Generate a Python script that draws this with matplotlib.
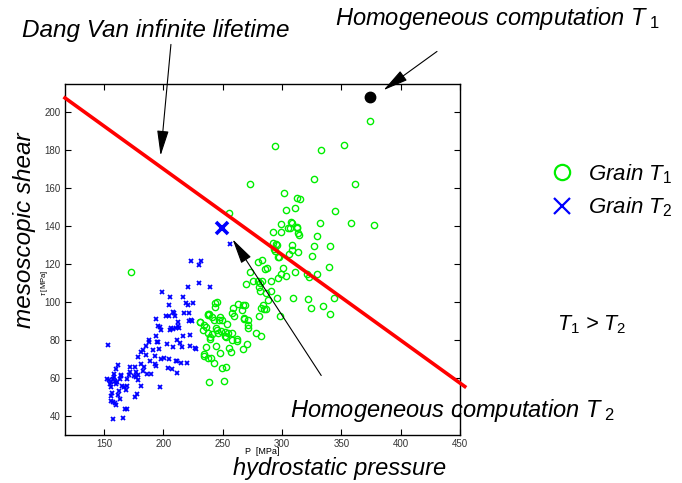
import matplotlib
matplotlib.use("Agg")
import matplotlib.pyplot as plt
from matplotlib.lines import Line2D

plt.rcParams["font.family"] = ["Liberation Sans", "DejaVu Sans"]
plt.rcParams["mathtext.fontset"] = "custom"
plt.rcParams["mathtext.it"] = "Liberation Sans:italic"
plt.rcParams["mathtext.rm"] = "Liberation Sans"

# -------------------------------------------------
# Data
# -------------------------------------------------
# Grain T2 (blue crosses)
p_t2 = [153.4, 157.8, 166.2, 167.6, 169.3, 152.8, 154.2, 155.6, 154.8, 156.2,
        157.6, 158.1, 159.0, 160.4, 156.2, 155.6, 157.6, 159.0, 160.4, 161.8,
        163.4, 164.6, 164.0, 160.4, 161.8, 165.4, 166.5, 168.2, 169.3, 169.3,
        171.0, 171.6, 172.1, 176.0, 176.6, 175.2, 177.2, 178.9, 181.4, 177.8,
        175.8, 178.9, 182.8, 183.9, 180.8, 178.9, 181.4, 182.8, 185.0, 187.5,
        187.8, 185.6, 188.4, 189.2, 186.1, 191.2, 192.6, 193.1, 193.7, 194.5,
        194.0, 193.4, 195.7, 196.8, 197.6, 195.4, 196.2, 197.6, 197.4, 199.0,
        200.1, 203.8, 204.6, 206.9, 208.0, 203.2, 204.6, 205.2, 204.6, 202.5,
        205.7, 206.6, 208.0, 208.0, 209.1, 209.6, 212.4, 212.2, 210.8, 213.0,
        211.3, 210.2, 211.8, 214.7, 219.7, 211.8, 213.6, 215.3, 216.4, 217.0,
        218.7, 220.4, 221.4, 221.4, 220.8, 222.5, 223.4, 229.8, 231.8, 230.3,
        224.7, 224.2, 222.0, 226.5, 239.4, 223.4, 227.6, 216.7, 256.3, 158.5,
        161.0, 163.0, 157.0, 162.5]
tau_t2 = [77.4, 38.2, 38.8, 43.5, 43.5, 59.3, 58.5, 57.6, 56.7, 54.9,
          59.3, 62.0, 58.0, 56.7, 50.5, 47.6, 47.0, 46.5, 45.6, 51.0,
          48.8, 61.0, 61.6, 64.6, 66.4, 55.5, 55.0, 53.5, 55.5, 59.3,
          61.6, 63.2, 65.8, 65.8, 63.2, 60.6, 60.2, 58.5, 55.8, 51.4,
          49.7, 61.4, 63.7, 65.5, 67.2, 70.8, 73.4, 74.3, 71.8, 78.7,
          80.0, 76.9, 69.0, 62.0, 62.0, 74.3, 71.6, 67.2, 66.0, 79.0,
          81.8, 91.0, 87.0, 86.6, 85.2, 78.7, 75.1, 69.9, 54.8, 105.0,
          70.4, 65.1, 69.9, 64.6, 76.0, 77.8, 98.0, 102.7, 92.2, 92.7,
          85.2, 86.2, 85.7, 94.5, 94.0, 92.2, 89.2, 87.0, 86.2, 86.2,
          80.0, 68.6, 68.6, 67.6, 67.8, 62.3, 78.1, 76.0, 102.7, 94.0,
          99.4, 98.5, 94.0, 89.6, 107.5, 82.7, 121.2, 119.4, 121.2, 109.8,
          99.2, 90.0, 76.4, 75.7, 107.7, 90.4, 75.1, 81.8, 130.2, 60.5,
          57.5, 59.0, 52.0, 53.0]

# Grain T1 (green circles)
p_t1 = [238.8, 251.4, 249.7, 253.1, 243.0, 240.2, 237.6, 234.5, 234.5, 235.7,
        244.1, 247.8, 255.3, 257.0, 267.2, 270.5, 282.3, 277.6, 271.6, 271.6,
        271.1, 267.7, 267.7, 262.1, 262.4, 257.6, 257.9, 254.0, 251.7, 252.6,
        239.6, 239.3, 237.3, 241.2, 233.7, 230.9, 234.3, 236.0, 237.9, 238.8,
        240.7, 243.0, 244.4, 245.0, 243.2, 244.9, 246.9, 247.8, 249.2, 248.6,
        245.8, 252.0, 257.9, 262.9, 266.9, 269.1, 266.3, 258.4, 259.6, 253.6,
        269.4, 273.1, 275.9, 280.1, 282.9, 280.4, 281.0, 282.7, 281.0, 279.3,
        284.3, 284.6, 282.3, 280.4, 286.6, 287.9, 285.7, 287.7, 290.5, 286.2,
        290.8, 295.6, 298.4, 296.4, 300.4, 299.0, 303.4, 296.7, 293.9, 295.0,
        292.7, 292.2, 293.6, 299.0, 299.0, 296.1, 297.2, 305.7, 306.8, 308.5,
        308.2, 308.5, 313.8, 314.4, 313.0, 313.8, 311.0, 309.0, 321.7, 324.3,
        320.9, 322.6, 325.4, 326.6, 329.1, 329.3, 331.6, 334.6, 339.4, 340.0,
        340.8, 343.4, 358.0, 377.1, 374.4, 293.8, 332.8, 351.9, 273.2, 326.9,
        361.7, 301.6, 312.8, 315.3, 303.5, 310.9, 344.9, 255.0, 307.5, 305.2,
        312.8, 172.7, 230.4, 237.4, 243.6]
tau_t1 = [57.6, 58.1, 65.0, 65.5, 67.8, 70.5, 70.1, 71.2, 72.6, 75.9,
          76.5, 73.1, 75.8, 73.5, 74.9, 77.9, 81.9, 83.5, 86.3, 87.9,
          90.2, 90.9, 91.4, 80.5, 79.3, 83.7, 79.6, 83.5, 82.1, 81.4,
          81.4, 80.2, 83.5, 83.2, 85.3, 89.3, 87.9, 86.7, 92.9, 93.4,
          92.0, 90.2, 86.2, 84.9, 97.3, 99.7, 90.6, 92.0, 90.6, 84.4,
          83.7, 83.9, 94.0, 99.0, 98.5, 98.5, 95.5, 96.6, 92.5, 88.5,
          109.2, 115.4, 111.0, 120.7, 122.1, 107.5, 105.7, 111.0, 109.6, 110.8,
          98.1, 96.2, 96.7, 92.5, 96.0, 100.8, 117.0, 117.9, 111.0, 104.7,
          105.6, 102.2, 92.3, 123.3, 117.9, 114.6, 113.5, 112.3, 126.8, 130.3,
          130.7, 136.5, 127.7, 136.7, 140.9, 130.1, 123.6, 125.0, 138.6, 141.6,
          129.8, 127.5, 136.0, 135.1, 139.1, 126.3, 115.4, 101.7, 101.3, 96.9,
          114.5, 113.1, 124.2, 129.5, 134.4, 114.5, 141.3, 97.6, 118.1, 93.4,
          129.5, 102.0, 141.3, 140.2, 195.0, 182.2, 179.7, 182.5, 162.0, 164.7,
          162.0, 157.5, 154.7, 154.2, 148.2, 149.2, 147.7, 146.6, 142.2, 138.8,
          139.4, 115.6, 89.2, 93.3, 99.4]

# Dang Van line (end points)
line_p = [117, 454]
line_tau = [207.4, 55.3]

# homogeneous computations
hom_t1 = (374.5, 208.0)
hom_t2 = (249.6, 138.7)

# -------------------------------------------------
# Figure
# -------------------------------------------------
fig = plt.figure(figsize=(6.82, 4.83), dpi=100)
ax = fig.add_axes([0.0953, 0.1004, 0.5792, 0.7267])

ax.plot(p_t2, tau_t2, ls="none", marker="x", ms=3, mew=1.3, color="#0000ff")
ax.plot(p_t1, tau_t1, ls="none", marker="o", ms=4.5, mew=1.0, mfc="none", mec="#00ee00")
ax.plot(line_p, line_tau, color="#ff0000", lw=2.6, clip_on=False, zorder=3)
ax.plot(*hom_t2, ls="none", marker="x", ms=8, mew=2.6, color="#0000ff", zorder=4)
ax.plot(*hom_t1, ls="none", marker="o", ms=7.5, color="black", zorder=4)

ax.set_xlim(117, 450)
ax.set_ylim(30, 215)
ax.set_xticks([150, 200, 250, 300, 350, 400, 450])
ax.set_yticks([40, 60, 80, 100, 120, 140, 160, 180, 200])
ax.tick_params(direction="in", length=4, width=0.8, top=True, right=True,
               labelsize=7, labelcolor="#333333", pad=3)
for s in ax.spines.values():
    s.set_linewidth(1.0)

ax.set_xlabel("P  [MPa]", fontsize=6.5)
ax.xaxis.set_label_coords(0.499, -0.036)
ax.set_ylabel(r"$\tau$ [MPa]", fontsize=5.5)
ax.yaxis.set_label_coords(-0.038, 0.432)

# big axis titles
fig.text(24 / 682, 1 - 230 / 483, "mesoscopic shear", rotation=90, style="italic",
         fontsize=17.5, ha="center", va="center")
fig.text(340 / 682, 1 - 468 / 483, "hydrostatic pressure", style="italic",
         fontsize=17, ha="center", va="center")

# annotations
arrow = dict(arrowstyle="-|>,head_length=1.3,head_width=0.3", color="black",
             lw=0.8, mutation_scale=12, shrinkA=0, shrinkB=0)
fig.text(22 / 682, 1 - 30 / 483, "Dang Van infinite lifetime", style="italic",
         fontsize=17.5, ha="left", va="center")
ax.annotate("", xy=(197.6, 177.0), xytext=(206.3, 235.6), arrowprops=arrow,
            annotation_clip=False)

fig.text(335 / 682, 1 - 19 / 483, r"Homogeneous computation $T_{\ 1}$", style="italic",
         fontsize=17, ha="left", va="center")
ax.annotate("", xy=(385.5, 211.5), xytext=(430.6, 231.9), arrowprops=arrow,
            annotation_clip=False)

fig.text(290 / 682, 1 - 410 / 483, r"Homogeneous computation $T_{\ 2}$", style="italic",
         fontsize=17, ha="left", va="center")
ax.annotate("", xy=(258.3, 132.9), xytext=(333.0, 61.1), arrowprops=arrow,
            annotation_clip=False)

# legend
handles = [
    Line2D([], [], ls="none", marker="o", ms=11, mew=1.6, mfc="none", mec="#00ee00"),
    Line2D([], [], ls="none", marker="x", ms=11, mew=1.6, color="#0000ff"),
]
fig.legend(handles, [r"Grain $T_1$", r"Grain $T_2$"], loc="upper left",
           bbox_to_anchor=(525 / 682, 1 - 142 / 483), frameon=False,
           prop={"style": "italic", "size": 16}, handletextpad=0.45,
           labelspacing=0.45, handlelength=1.5)

fig.text(557 / 682, 1 - 325 / 483, r"$T_1$ > $T_2$", style="italic",
         fontsize=15.5, ha="left", va="center")

fig.savefig("out.png", dpi=100)
